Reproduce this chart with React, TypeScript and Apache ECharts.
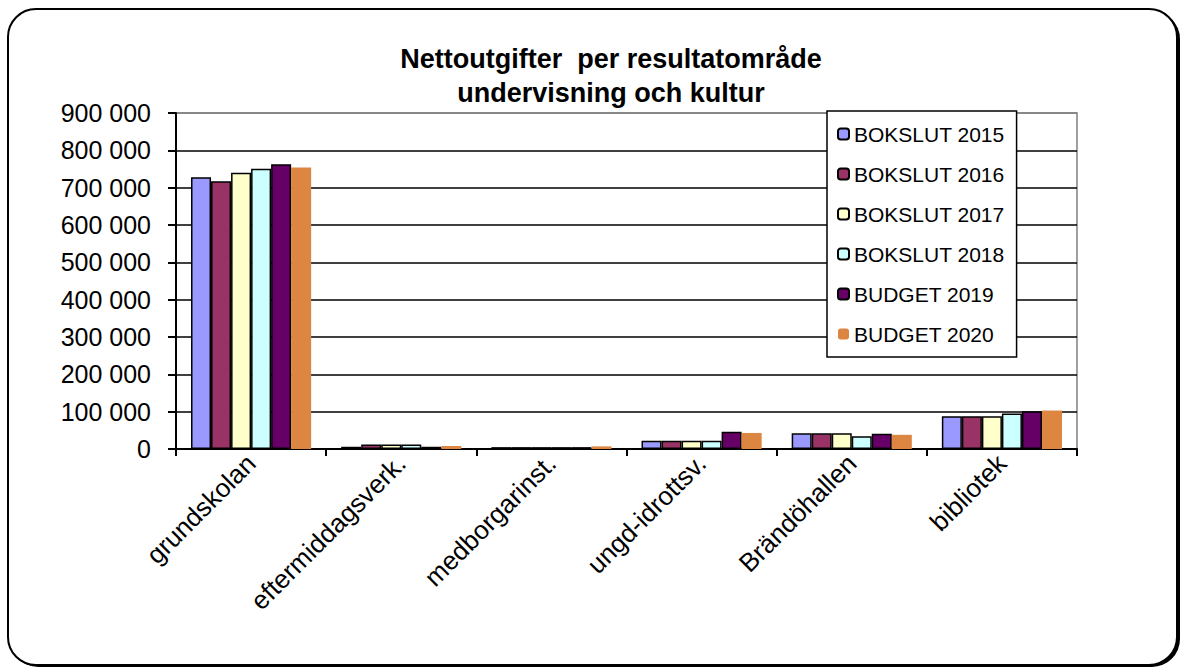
import React, { useEffect, useRef } from "react";
import * as echarts from "echarts";

const categories = ["grundskolan", "eftermiddagsverk.", "medborgarinst.", "ungd-idrottsv.", "Brändöhallen", "bibliotek"];
const seriesNames = ["BOKSLUT 2015", "BOKSLUT 2016", "BOKSLUT 2017", "BOKSLUT 2018", "BUDGET 2019", "BUDGET 2020"];
const bokslut2015 = [728000, 6000, 5000, 22000, 42000, 88000];
const bokslut2016 = [717000, 12000, 5000, 22000, 42000, 88000];
const bokslut2017 = [740000, 12000, 5000, 22000, 42000, 88000];
const bokslut2018 = [751000, 12000, 5000, 22000, 34000, 95000];
const budget2019 = [763000, 6000, 5000, 46000, 41000, 101000];
const budget2020 = [754000, 8000, 7000, 43000, 38000, 103000];
const seriesValues = [bokslut2015, bokslut2016, bokslut2017, bokslut2018, budget2019, budget2020];
const colors = ["#9999FF", "#993366", "#FFFFCC", "#CCFFFF", "#660066", "#DD8642"];

export default function App() {
  const ref = useRef<HTMLDivElement>(null);
  useEffect(() => {
    const chart = echarts.init(ref.current!, null, { renderer: "svg" });
    const font = "Arial, 'Liberation Sans', sans-serif";
    chart.setOption({
      animation: false,
      textStyle: { fontFamily: font },
      graphic: [
        { type: "rect", z: -2, shape: { x: 10, y: 11, width: 1170, height: 656, r: 28 }, style: { fill: "#000" }, silent: true },
        { type: "rect", z: -1, shape: { x: 8, y: 9, width: 1169, height: 656, r: 28 }, style: { fill: "#fff", stroke: "#000", lineWidth: 2 }, silent: true },
      ],
      title: {
        text: "Nettoutgifter  per resultatområde\nundervisning och kultur",
        left: 606,
        textAlign: "center",
        top: 37,
        textStyle: { fontSize: 27, fontWeight: "bold", color: "#000", lineHeight: 34, fontFamily: font },
      },
      legend: {
        orient: "vertical",
        left: 827,
        top: 111,
        backgroundColor: "#fff",
        borderColor: "#000",
        borderWidth: 1.5,
        padding: [12, 12, 12, 10],
        itemWidth: 11,
        itemHeight: 11,
        itemGap: 18,
        textStyle: { fontSize: 21, color: "#000", lineHeight: 22, fontFamily: font },
        data: seriesNames,
      },
      grid: { left: 176, right: 107, top: 113, bottom: 219, show: true, borderColor: "#808080", borderWidth: 1.5 },
      xAxis: {
        type: "category",
        data: categories,
        axisLine: { lineStyle: { color: "#000", width: 2 } },
        axisTick: { show: true, length: 7, lineStyle: { color: "#000", width: 2 } },
        axisLabel: { rotate: 45, fontSize: 26, color: "#000", margin: 10, fontFamily: font },
      },
      yAxis: {
        type: "value",
        min: 0,
        max: 900000,
        interval: 100000,
        axisLine: { show: true, lineStyle: { color: "#000", width: 2 } },
        axisTick: { show: true, length: 8, lineStyle: { color: "#000", width: 2 } },
        axisLabel: {
          fontSize: 25,
          color: "#000",
          margin: 25,
          fontFamily: font,
          formatter: (v: number) => (v === 0 ? "0" : `${Math.floor(v / 1000)} 000`),
        },
        splitLine: {
          lineStyle: {
            color: ["#000", "#000", "#000", "#000", "#000", "#000", "#000", "#000", "#000", "#808080"],
            width: 1.5,
          },
        },
      },
      series: seriesNames.map((name, i) => ({
        name,
        type: "bar",
        data: seriesValues[i],
        barGap: "0%",
        barCategoryGap: "20%",
        itemStyle: {
          color: colors[i],
          borderColor: i === 5 ? colors[i] : "#000",
          borderWidth: i === 5 ? 0 : 1.5,
        },
      })),
    });
    return () => chart.dispose();
  }, []);
  return <div ref={ref} style={{ position: "absolute", left: 0, top: 0, width: 1184, height: 668 }} />;
}
